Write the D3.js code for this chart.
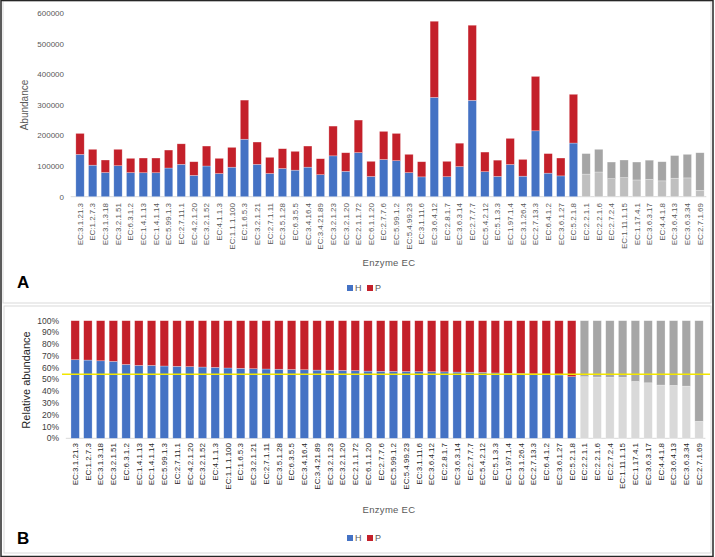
<!DOCTYPE html>
<html>
<head>
<meta charset="utf-8">
<script src="https://cdn.jsdelivr.net/npm/d3@7"></script>
<style>
body { margin: 0; background: #fff; }
text { font-family: "Liberation Sans", Arial, sans-serif; }
</style>
</head>
<body>
<script>
var categories = [
    'EC:3.1.21.3', 'EC:1.2.7.3', 'EC:3.1.3.18', 'EC:3.2.1.51', 'EC:6.3.1.2',
    'EC:1.4.1.13', 'EC:1.4.1.14', 'EC:5.99.1.3', 'EC:2.7.11.1', 'EC:4.2.1.20',
    'EC:3.2.1.52', 'EC:4.1.1.3', 'EC:1.1.1.100', 'EC:1.6.5.3', 'EC:3.2.1.21',
    'EC:2.7.1.11', 'EC:3.5.1.28', 'EC:6.3.5.5', 'EC:3.4.16.4', 'EC:3.4.21.89',
    'EC:3.2.1.23', 'EC:3.2.1.20', 'EC:2.1.1.72', 'EC:6.1.1.20', 'EC:2.7.7.6',
    'EC:5.99.1.2', 'EC:5.4.99.23', 'EC:3.1.11.6', 'EC:3.6.4.12', 'EC:2.8.1.7',
    'EC:3.6.3.14', 'EC:2.7.7.7', 'EC:5.4.2.12', 'EC:5.1.3.3', 'EC:1.97.1.4',
    'EC:3.1.26.4', 'EC:2.7.13.3', 'EC:6.4.1.2', 'EC:3.6.1.27', 'EC:5.2.1.8',
    'EC:2.2.1.1', 'EC:2.2.1.6', 'EC:2.7.2.4', 'EC:1.11.1.15', 'EC:1.17.4.1',
    'EC:3.6.3.17', 'EC:4.4.1.8', 'EC:3.6.4.13', 'EC:3.6.3.34', 'EC:2.7.1.69'
];

var hValues = [
    138300, 103100, 79100, 101400, 78800, 78400, 78400, 93800, 105900, 69700,
    100400, 75700, 96500, 188000, 105800, 75900, 92200, 86800, 96600, 72000,
    133700, 83000, 144200, 66100, 121800, 117800, 78700, 64900, 324900, 65400,
    98500, 315300, 81800, 66400, 105300, 67100, 215600, 77000, 68100, 175500,
    73900, 80800, 58900, 62200, 54800, 56400, 51800, 60500, 61500, 20700
];

var pValues = [
    68700, 51900, 40900, 53600, 46700, 48100, 48100, 58800, 67100, 44700,
    65300, 49800, 64900, 128000, 73000, 52900, 64800, 61600, 69100, 52200,
    97300, 60800, 106500, 49600, 91900, 89200, 59900, 49500, 249100, 50300,
    76500, 245700, 64200, 53100, 85500, 54900, 177900, 64000, 58400, 159500,
    67100, 74200, 54500, 57800, 58600, 63100, 62600, 74000, 77100, 123100
];

// enzymes drawn in grey
var greyCategories = [
    'EC:2.2.1.1', 'EC:2.2.1.6', 'EC:2.7.2.4', 'EC:1.11.1.15', 'EC:1.17.4.1',
    'EC:3.6.3.17', 'EC:4.4.1.8', 'EC:3.6.4.13', 'EC:3.6.3.34', 'EC:2.7.1.69'
];

var seriesKeys = ['H', 'P'];
var abundanceTicks = [0, 100000, 200000, 300000, 400000, 500000, 600000];
var relativeTicks = [0, 0.1, 0.2, 0.3, 0.4, 0.5, 0.6, 0.7, 0.8, 0.9, 1];
var thresholdLine = 0.544;

var rows = categories.map(function (c, i) {
    return { name: c, H: hValues[i], P: pValues[i] };
});

var w = 715, h = 557;

var svg = d3.select("body")
    .append("svg")
    .attr("width", w)
    .attr("height", h)
    .attr("viewBox", `0 0 ${w} ${h}`);

// frames
svg.append("rect")
    .attr("x", 3).attr("y", 1).attr("width", 708).attr("height", 302)
    .attr("fill", "none").attr("stroke", "#d9d9d9").attr("stroke-width", 1);
svg.append("rect")
    .attr("x", 4).attr("y", 306).attr("width", 707).attr("height", 247)
    .attr("fill", "none").attr("stroke", "#d9d9d9").attr("stroke-width", 1);
svg.append("rect")
    .attr("x", 1).attr("y", 0.5).attr("width", 712).attr("height", 556)
    .attr("fill", "none").attr("stroke", "#262626").attr("stroke-width", 1.5);

function drawPanel(cfg) {
    var g = svg.append("g");

    var x = d3.scaleBand()
        .domain(categories)
        .range(cfg.xRange)
        .paddingInner(0.34)
        .paddingOuter(0.17);

    var y = d3.scaleLinear()
        .domain(cfg.yDomain)
        .range(cfg.yRange);

    var stack = d3.stack().keys(seriesKeys);
    if (cfg.expand) stack.offset(d3.stackOffsetExpand);
    var layers = stack(rows);

    // baseline
    g.append("line")
        .attr("x1", cfg.xRange[0] - 3).attr("x2", cfg.xRange[1])
        .attr("y1", y(0)).attr("y2", y(0))
        .attr("stroke", "#d9d9d9").attr("stroke-width", 1);

    g.selectAll(".layer")
        .data(layers)
        .enter()
        .append("g")
        .attr("class", "layer")
        .selectAll("rect")
        .data(function (d) { return d.map(function (p) { p.key = d.key; return p; }); })
        .enter()
        .append("rect")
        .attr("x", function (d) { return x(d.data.name); })
        .attr("width", x.bandwidth())
        .attr("y", function (d) { return y(d[1]); })
        .attr("height", function (d) { return y(d[0]) - y(d[1]); })
        .attr("fill", function (d) {
            var grey = greyCategories.indexOf(d.data.name) >= 0;
            if (grey) return d.key == 'H' ? cfg.greyLight : cfg.greyDark;
            return d.key == 'H' ? '#4472c4' : '#c4202a';
        })
        .attr("stroke", "#fff")
        .attr("stroke-opacity", 0.45)
        .attr("stroke-width", 0.6);

    // y ticks
    g.selectAll(".ytick")
        .data(cfg.ticks)
        .enter()
        .append("text")
        .attr("x", cfg.tickX)
        .attr("y", function (d) { return y(d); })
        .attr("dy", "0.35em")
        .attr("text-anchor", "end")
        .attr("font-size", cfg.tickSize)
        .attr("fill", cfg.tickColor)
        .text(cfg.tickFormat);

    // x labels
    g.selectAll(".xlab")
        .data(categories)
        .enter()
        .append("text")
        .attr("transform", function (d) {
            return 'translate(' + (x(d) + x.bandwidth() / 2 + 2.8) + ',' + cfg.labelTop + ') rotate(-90)';
        })
        .attr("text-anchor", "end")
        .attr("font-size", 8)
        .attr("fill", cfg.labelColor)
        .text(function (d) { return d; });

    // axis titles
    g.append("text")
        .attr("transform", 'translate(' + cfg.yTitle[0] + ',' + cfg.yTitle[1] + ') rotate(-90)')
        .attr("text-anchor", "middle")
        .attr("font-size", cfg.yTitleSize)
        .attr("fill", cfg.yTitleColor)
        .text(cfg.yTitleText);

    g.append("text")
        .attr("x", 389).attr("y", cfg.xTitleY)
        .attr("text-anchor", "middle")
        .attr("font-size", 9.5)
        .attr("letter-spacing", 0.3)
        .attr("fill", "#595959")
        .text("Enzyme EC");

    // legend
    var legend = g.append("g").attr("transform", 'translate(347,' + cfg.legendY + ')');
    legend.selectAll("rect")
        .data(seriesKeys)
        .enter()
        .append("rect")
        .attr("x", function (d, i) { return i * 20; })
        .attr("y", -3)
        .attr("width", 6).attr("height", 6)
        .attr("fill", function (d) { return d == 'H' ? '#4472c4' : '#c4202a'; });
    legend.selectAll("text")
        .data(seriesKeys)
        .enter()
        .append("text")
        .attr("x", function (d, i) { return i * 20 + 8; })
        .attr("y", 0)
        .attr("dy", "0.35em")
        .attr("font-size", 9)
        .attr("fill", "#595959")
        .text(function (d) { return d; });

    // panel letter
    g.append("text")
        .attr("x", 17).attr("y", cfg.letterY)
        .attr("font-size", 17)
        .attr("font-weight", "bold")
        .attr("fill", "#000")
        .text(cfg.letter);

    if (cfg.threshold != null) {
        g.append("line")
            .attr("x1", 62).attr("x2", 710)
            .attr("y1", y(cfg.threshold)).attr("y2", y(cfg.threshold))
            .attr("stroke", "#f2e600").attr("stroke-width", 1.5);
    }
}

drawPanel({
    xRange: [73.7, 706.3],
    yDomain: [0, 600000],
    yRange: [196.7, 13.3],
    expand: false,
    greyLight: '#bfbfbf',
    greyDark: '#a5a5a5',
    ticks: abundanceTicks,
    tickX: 64,
    tickSize: 8,
    tickColor: '#595959',
    tickFormat: function (d) { return d; },
    labelTop: 203,
    labelColor: '#595959',
    yTitle: [28, 105],
    yTitleSize: 10,
    yTitleColor: '#595959',
    yTitleText: 'Abundance',
    xTitleY: 266,
    legendY: 288,
    letter: 'A',
    letterY: 288,
    threshold: null
});

drawPanel({
    xRange: [68.8, 705.4],
    yDomain: [0, 1],
    yRange: [438.3, 320.7],
    expand: true,
    greyLight: '#d9d9d9',
    greyDark: '#a6a6a6',
    ticks: relativeTicks,
    tickX: 59,
    tickSize: 8.5,
    tickColor: '#404040',
    tickFormat: d3.format(".0%"),
    labelTop: 443,
    labelColor: '#262626',
    yTitle: [30, 380],
    yTitleSize: 11,
    yTitleColor: '#262626',
    yTitleText: 'Relative abundance',
    xTitleY: 513,
    legendY: 538,
    letter: 'B',
    letterY: 544,
    threshold: thresholdLine
});
</script>
</body>
</html>
